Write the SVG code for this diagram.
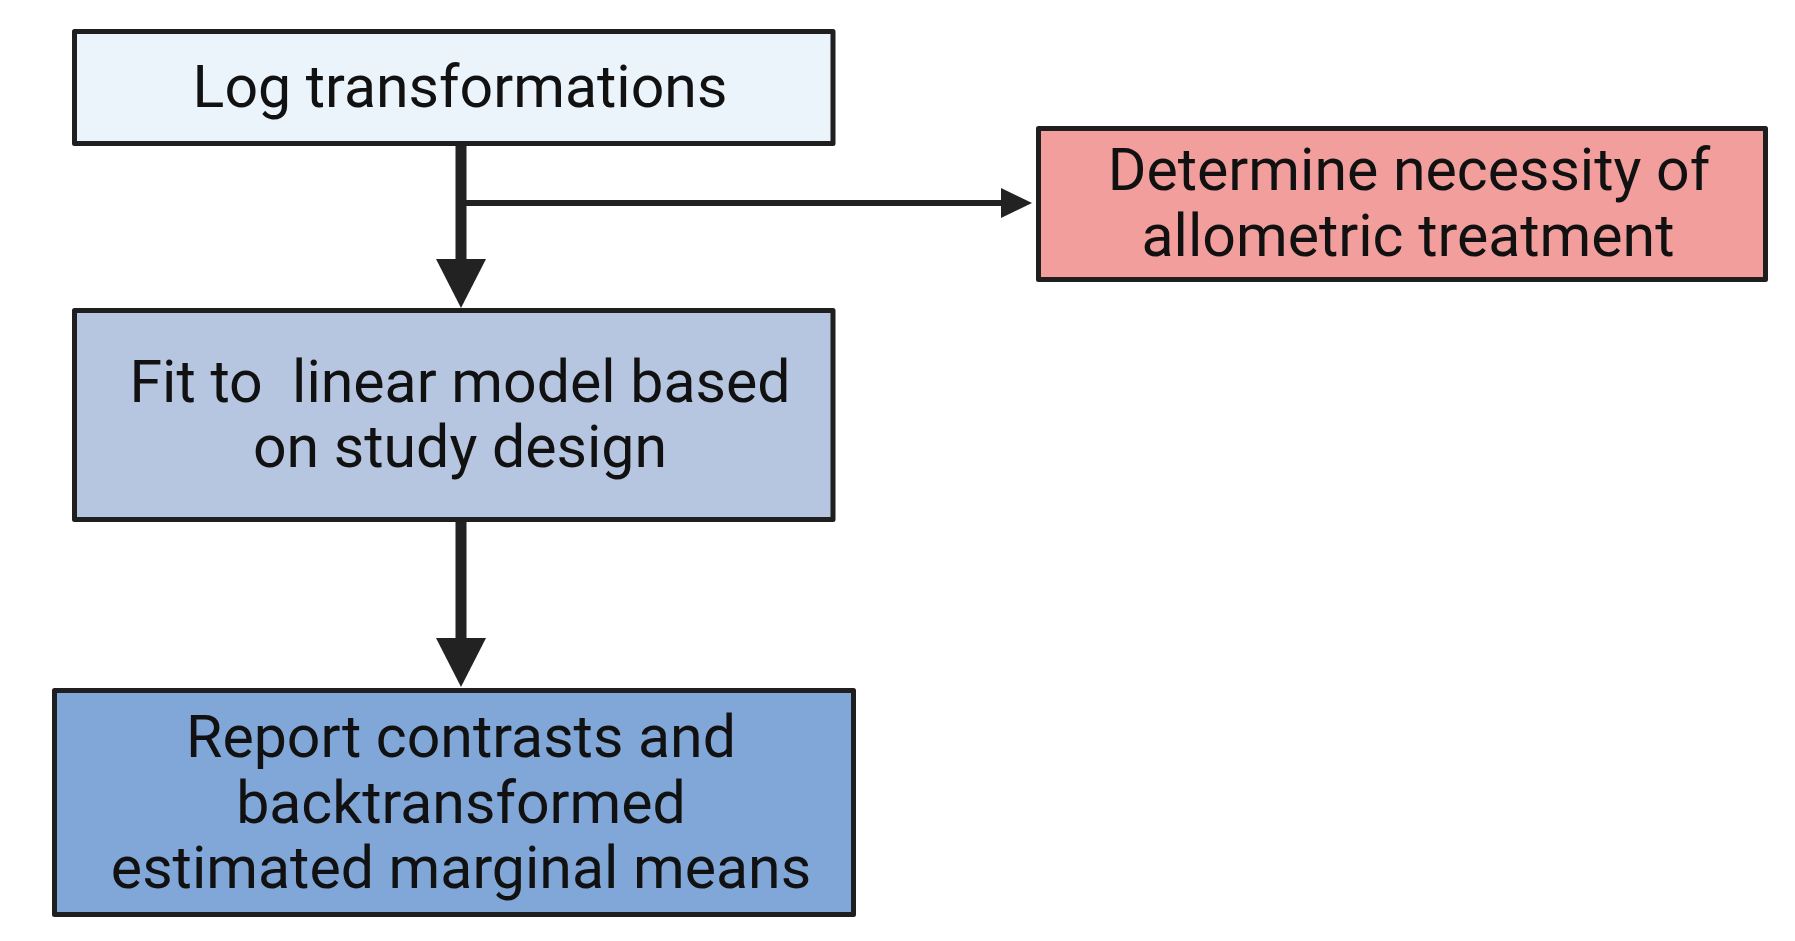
<svg xmlns="http://www.w3.org/2000/svg" width="1795" height="941" viewBox="0 0 1795 941">
<style>
.box{stroke:#1f1f1f;stroke-width:5;stroke-linejoin:round}
.t{font-family:Roboto,"Liberation Sans",sans-serif;font-size:59px;fill:#111;text-anchor:middle}
.c{stroke:#222;fill:none}
</style>
<defs>
<marker id="big" viewBox="0 0 49 50" refX="0" refY="25" markerWidth="49" markerHeight="50" markerUnits="userSpaceOnUse" orient="auto">
<path d="M0,0 L49,25 L0,50 Z" fill="#222"/>
</marker>
<marker id="small" viewBox="0 0 31 30" refX="0" refY="15" markerWidth="31" markerHeight="30" markerUnits="userSpaceOnUse" orient="auto">
<path d="M0,0 L31,15 L0,30 Z" fill="#222"/>
</marker>
</defs>
<rect width="1795" height="941" fill="#fff"/>
<g id="connectors">
<line class="c" x1="461" y1="146" x2="461" y2="259" stroke-width="11" marker-end="url(#big)"/>
<line class="c" x1="461" y1="203" x2="1001" y2="203" stroke-width="6" marker-end="url(#small)"/>
<line class="c" x1="461" y1="522" x2="461" y2="638" stroke-width="11" marker-end="url(#big)"/>
</g>
<g id="node-log">
<rect class="box" x="74.5" y="31.5" width="758.5" height="112" fill="#EBF3FB"/>
<text class="t" x="460" y="107">Log transformations</text>
</g>
<g id="node-allometric">
<rect class="box" x="1038.5" y="128.5" width="727" height="151" fill="#F29E9C"/>
<text class="t" x="1409" y="190">Determine necessity of</text>
<text class="t" x="1408" y="256">allometric treatment</text>
</g>
<g id="node-fit">
<rect class="box" x="74.5" y="310.5" width="758.5" height="209" fill="#B6C5E0"/>
<text class="t" x="460" y="402" xml:space="preserve">Fit to  linear model based</text>
<text class="t" x="460" y="467">on study design</text>
</g>
<g id="node-report">
<rect class="box" x="54.5" y="690.5" width="799" height="224" fill="#81A6D8"/>
<text class="t" x="461" y="757">Report contrasts and</text>
<text class="t" x="461" y="823">backtransformed</text>
<text class="t" x="461" y="888">estimated marginal means</text>
</g>
</svg>
